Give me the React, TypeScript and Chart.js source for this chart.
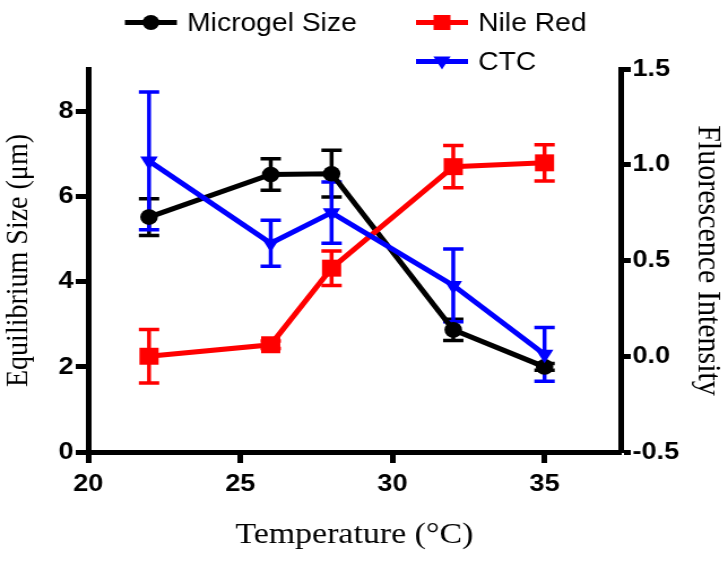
import React, { useEffect, useRef } from 'react';
import { Chart, registerables } from 'chart.js';
Chart.register(...registerables);

// ---- data ----
const temperatures = [22, 26, 28, 32, 35];
const microgelSize = [5.52, 6.52, 6.54, 2.87, 2.0];
const microgelErr = [0.43, 0.37, 0.55, 0.25, 0.08];
const nileRed = [0.0, 0.06, 0.46, 0.99, 1.01];
const nileRedErr = [0.14, 0.02, 0.09, 0.11, 0.095];
const ctc = [1.02, 0.59, 0.75, 0.37, 0.01];
const ctcErr = [0.36, 0.12, 0.16, 0.19, 0.14];
const seriesLabels = ['Microgel Size', 'Nile Red', 'CTC'];
const xTitle = 'Temperature (°C)';
const leftTitle = 'Equilibrium Size (μm)';
const rightTitle = 'Fluorescence Intensity';

// the figure is drawn on a narrower canvas and stretched horizontally, like the original
const STRETCH = 728 / 644;
const CW = 644;
const CH = 561;

const toPoints = (ys: number[]) => temperatures.map((x, i) => ({ x, y: ys[i] }));

function markerPath(ctx: CanvasRenderingContext2D, style: string, x: number, y: number, r: number) {
  ctx.beginPath();
  if (style === 'circle') {
    ctx.arc(x, y, r, 0, Math.PI * 2);
  } else if (style === 'rect') {
    ctx.rect(x - r, y - r, 2 * r, 2 * r);
  } else {
    ctx.moveTo(x, y + r * 0.95);
    ctx.lineTo(x - r * 0.9, y - r * 0.6);
    ctx.lineTo(x + r * 0.9, y - r * 0.6);
    ctx.closePath();
  }
  ctx.fill();
}

const errorBarPlugin = {
  id: 'errorBars',
  beforeDatasetsDraw(chart: any) {
    const ctx = chart.ctx as CanvasRenderingContext2D;
    const xScale = chart.scales.x;
    chart.data.datasets.forEach((ds: any) => {
      const yScale = chart.scales[ds.yAxisID];
      ctx.save();
      ctx.strokeStyle = ds.borderColor;
      ctx.lineWidth = 3.5;
      ds.data.forEach((p: any, i: number) => {
        const e = ds.errors[i];
        const px = xScale.getPixelForValue(p.x);
        const top = yScale.getPixelForValue(p.y + e);
        const bot = yScale.getPixelForValue(p.y - e);
        ctx.beginPath();
        ctx.moveTo(px, top);
        ctx.lineTo(px, bot);
        ctx.moveTo(px - 9, top);
        ctx.lineTo(px + 9, top);
        ctx.moveTo(px - 9, bot);
        ctx.lineTo(px + 9, bot);
        ctx.stroke();
      });
      ctx.restore();
    });
  },
};

const legendLayout = [
  { lineX: 110.5, y: 22.5 },
  { lineX: 368, y: 22.5 },
  { lineX: 368, y: 61.5 },
];
const legendMarkers = ['circle', 'rect', 'tri'];
const legendMarkerSize = [7.5, 7.5, 8.5];

const legendPlugin = {
  id: 'customLegend',
  afterDraw(chart: any) {
    const ctx = chart.ctx as CanvasRenderingContext2D;
    chart.data.datasets.forEach((ds: any, i: number) => {
      const L = legendLayout[i];
      ctx.save();
      ctx.strokeStyle = ds.borderColor;
      ctx.fillStyle = ds.borderColor;
      ctx.lineWidth = 5;
      ctx.beginPath();
      ctx.moveTo(L.lineX, L.y);
      ctx.lineTo(L.lineX + 46, L.y);
      ctx.stroke();
      markerPath(ctx, legendMarkers[i], L.lineX + 23, L.y, legendMarkerSize[i]);
      ctx.fillStyle = '#000';
      ctx.font = '25px "Liberation Sans", Arial, sans-serif';
      ctx.textBaseline = 'middle';
      ctx.textAlign = 'left';
      ctx.fillText(ds.label, L.lineX + 55, L.y + 1.5);
      ctx.restore();
    });
  },
};

const tickFont = { family: '"Liberation Sans", Arial, sans-serif', size: 24, weight: 'bold' as const };
const titleFont = { family: '"Liberation Serif", "Times New Roman", serif', size: 28 };
const rightTitleFont = { family: '"Liberation Serif", "Times New Roman", serif', size: 30 };
const xTitleFont = { family: '"Liberation Serif", "Times New Roman", serif', size: 30 };

export default function App() {
  const ref = useRef<HTMLCanvasElement>(null);
  useEffect(() => {
    if (!ref.current) return;
    const chart = new Chart(ref.current, {
      type: 'line',
      data: {
        datasets: [
          {
            label: seriesLabels[0],
            data: toPoints(microgelSize),
            errors: microgelErr,
            yAxisID: 'y',
            borderColor: '#000000',
            backgroundColor: '#000000',
            borderWidth: 5,
            pointStyle: 'circle',
            pointRadius: 7.8,
            pointBorderWidth: 0,
            order: 3,
          } as any,
          {
            label: seriesLabels[1],
            data: toPoints(nileRed),
            errors: nileRedErr,
            yAxisID: 'y1',
            borderColor: '#ff0000',
            backgroundColor: '#ff0000',
            borderWidth: 5,
            pointStyle: 'rect',
            pointRadius: 12,
            pointBorderWidth: 0,
            order: 2,
          } as any,
          {
            label: seriesLabels[2],
            data: toPoints(ctc),
            errors: ctcErr,
            yAxisID: 'y1',
            borderColor: '#0000ff',
            backgroundColor: '#0000ff',
            borderWidth: 5,
            pointStyle: 'triangle',
            pointRotation: 180,
            pointRadius: 9,
            pointBorderWidth: 0,
            order: 1,
          } as any,
        ],
      },
      options: {
        responsive: false,
        animation: false,
        devicePixelRatio: 1,
        layout: { padding: { top: 69, left: 0, right: 0, bottom: 0 } },
        plugins: { legend: { display: false }, tooltip: { enabled: false } },
        scales: {
          x: {
            type: 'linear',
            min: 20,
            max: 37.5,
            afterFit: (s: any) => { s.height = 109; },
            ticks: { stepSize: 5, includeBounds: false, font: tickFont, color: '#000', padding: 7, maxRotation: 0 },
            grid: { drawOnChartArea: false, drawTicks: true, tickLength: 11, tickWidth: 5, tickColor: '#000', color: '#000' },
            border: { display: true, width: 5, color: '#000' },
            title: { display: true, text: xTitle, font: xTitleFont, color: '#000', padding: { top: 0, bottom: 8 } },
          },
          y: {
            type: 'linear',
            position: 'left',
            min: 0,
            max: 9,
            afterFit: (s: any) => { s.width = 78; },
            ticks: { stepSize: 2, includeBounds: false, font: tickFont, color: '#000', padding: 2 },
            grid: { drawOnChartArea: false, drawTicks: true, tickLength: 11, tickWidth: 5, tickColor: '#000', color: '#000' },
            border: { display: true, width: 5, color: '#000' },
            title: { display: true, text: leftTitle, font: titleFont, color: '#000', padding: { top: 0, bottom: 0 } },
          },
          y1: {
            type: 'linear',
            position: 'right',
            min: -0.5,
            max: 1.5,
            afterFit: (s: any) => { s.width = 95; },
            ticks: { stepSize: 0.5, includeBounds: false, font: tickFont, color: '#000', padding: 1.5, callback: (v: any) => Number(v).toFixed(1) },
            grid: { drawOnChartArea: false, drawTicks: true, tickLength: 9, tickWidth: 5, tickColor: '#000', color: '#000' },
            border: { display: true, width: 5, color: '#000' },
            title: { display: true, text: rightTitle, font: rightTitleFont, color: '#000', padding: { top: 0.5, bottom: 0 } },
          },
        },
      } as any,
      plugins: [errorBarPlugin, legendPlugin],
    });
    return () => chart.destroy();
  }, []);
  return (
    <div style={{ position: 'absolute', left: 0, top: 0, width: 728, height: 561, overflow: 'hidden', background: '#fff' }}>
      <div style={{ width: CW, height: CH, transform: `scaleX(${STRETCH})`, transformOrigin: '0 0' }}>
        <canvas ref={ref} width={CW} height={CH} style={{ width: CW, height: CH, display: 'block' }} />
      </div>
    </div>
  );
}
